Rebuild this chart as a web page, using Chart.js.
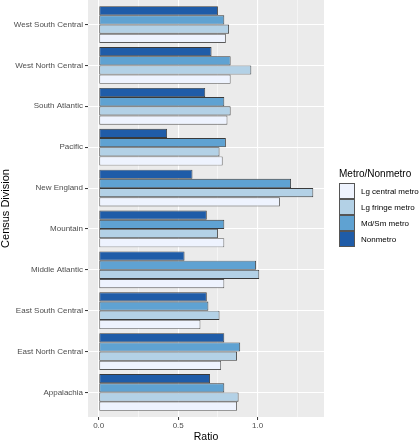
<!DOCTYPE html>
<html>
<head>
<meta charset="utf-8">
<script src="https://cdn.jsdelivr.net/npm/chart.js@4/dist/chart.umd.min.js"></script>
<style>
  body { margin: 0; background: #fff; font-family: "Liberation Sans", Arial, sans-serif; }
  #wrap { position: relative; width: 420px; height: 440px; }
  #legend { position: absolute; left: 339px; top: 167px; }
  #legend .title { font-size: 10px; line-height: 14px; color: #000; margin-bottom: 2px; }
  #legend .row { display: flex; align-items: center; height: 16px; }
  #legend .key { width: 16px; height: 16px; box-sizing: border-box; border: 1px solid #555; }
  #legend .lab { font-size: 8px; color: #000; margin-left: 6px; white-space: nowrap; }
</style>
</head>
<body>
<div id="wrap">
  <canvas id="chart" width="420" height="440"></canvas>
  <div id="legend"></div>
</div>
<script>
// Census divisions, top to bottom
const divisions = ['West South Central', 'West North Central', 'South Atlantic', 'Pacific', 'New England',
    'Mountain', 'Middle Atlantic', 'East South Central', 'East North Central', 'Appalachia'];

// Ratio values per metro/nonmetro group
const nonmetro = [0.75, 0.71, 0.67, 0.43, 0.59, 0.68, 0.54, 0.68, 0.79, 0.70];
const mdSmMetro = [0.79, 0.83, 0.79, 0.80, 1.21, 0.79, 0.99, 0.69, 0.89, 0.79];
const lgFringeMetro = [0.82, 0.96, 0.83, 0.76, 1.35, 0.75, 1.01, 0.76, 0.87, 0.88];
const lgCentralMetro = [0.80, 0.83, 0.81, 0.78, 1.14, 0.79, 0.79, 0.64, 0.77, 0.87];

// Group names and colours (legend order)
const groupNames = ['Lg central metro', 'Lg fringe metro', 'Md/Sm metro', 'Nonmetro'];
const groupColors = ['#eef3fe', '#b3d1e6', '#5fa2d2', '#1f5ca8'];

// Axis ticks
const xMajorTicks = [0, 0.5, 1.0];
const xMinorTicks = [0.25, 0.75, 1.25];

const groupValues = [lgCentralMetro, lgFringeMetro, mdSmMetro, nonmetro];

// bars are listed top to bottom inside each division: Nonmetro first
const datasets = [3, 2, 1, 0].map(i => ({
    label: groupNames[i],
    data: groupValues[i],
    backgroundColor: groupColors[i],
    borderColor: i === 0 ? '#5a5a5a' : '#3a3a3a',
    borderWidth: 0.9,
    borderSkipped: false,
    categoryPercentage: 0.9,
    barPercentage: 1.0
}));

const dataMax = Math.max(...groupValues.flat());

const panelBg = {
    id: 'panelBg',
    beforeDraw(chart) {
        const { ctx, chartArea: a } = chart;
        ctx.save();
        ctx.fillStyle = '#ebebeb';
        ctx.fillRect(a.left, a.top, a.right - a.left, a.bottom - a.top);
        ctx.restore();
    }
};

new Chart(document.getElementById('chart'), {
    type: 'bar',
    data: { labels: divisions, datasets },
    plugins: [panelBg],
    options: {
        indexAxis: 'y',
        responsive: false,
        animation: false,
        devicePixelRatio: 1,
        layout: { padding: { left: 0, right: 96, top: 0, bottom: 0 } },
        plugins: { legend: { display: false }, tooltip: { enabled: false } },
        scales: {
            x: {
                type: 'linear',
                min: -0.05 * dataMax,
                max: dataMax * 1.05,
                afterBuildTicks: s => {
                    s.ticks = [...xMajorTicks, ...xMinorTicks].sort((a, b) => a - b).map(v => ({ value: v }));
                },
                afterFit: s => {
                    s.height = 23;
                    s.paddingLeft = 0;
                    s.paddingRight = 0;
                },
                border: { display: false },
                grid: {
                    color: '#ffffff',
                    lineWidth: c => xMajorTicks.includes(c.tick.value) ? 1.1 : 0.5,
                    tickColor: c => xMajorTicks.includes(c.tick.value) ? '#333333' : 'rgba(0,0,0,0)',
                    tickLength: 3,
                    tickWidth: 1
                },
                ticks: {
                    autoSkip: false,
                    maxRotation: 0,
                    padding: 1,
                    color: '#4d4d4d',
                    font: { family: 'Liberation Sans', size: 8 },
                    callback: v => xMajorTicks.includes(v) ? v.toFixed(1) : ''
                },
                title: {
                    display: true,
                    text: 'Ratio',
                    color: '#000',
                    padding: { top: 0, bottom: -2 },
                    font: { family: 'Liberation Sans', size: 10.5, lineHeight: 1 }
                }
            },
            y: {
                type: 'category',
                offset: true,
                afterBuildTicks: s => {
                    // ggplot style discrete expansion: 0.6 of a category on each end
                    s._startValue = -0.6;
                    s._valueRange = divisions.length - 1 + 1.2;
                },
                afterFit: s => {
                    s.width = 88;
                    s.paddingTop = 0;
                    s.paddingBottom = 0;
                },
                border: { display: false },
                grid: {
                    offset: false,
                    color: '#ffffff',
                    lineWidth: 1.1,
                    tickColor: '#333333',
                    tickLength: 3,
                    tickWidth: 1
                },
                ticks: {
                    autoSkip: false,
                    padding: 2,
                    color: '#4d4d4d',
                    font: { family: 'Liberation Sans', size: 8 }
                },
                title: {
                    display: true,
                    text: 'Census Division',
                    color: '#000',
                    padding: 0,
                    font: { family: 'Liberation Sans', size: 11, lineHeight: 1 }
                }
            }
        }
    }
});

// Legend, built from the same names and colours
const legend = document.getElementById('legend');
legend.innerHTML = '<div class="title">Metro/Nonmetro</div>' +
    groupNames.map((n, i) => `<div class="row"><div class="key" style="background:${groupColors[i]}"></div><span class="lab">${n}</span></div>`).join('');
</script>
</body>
</html>
